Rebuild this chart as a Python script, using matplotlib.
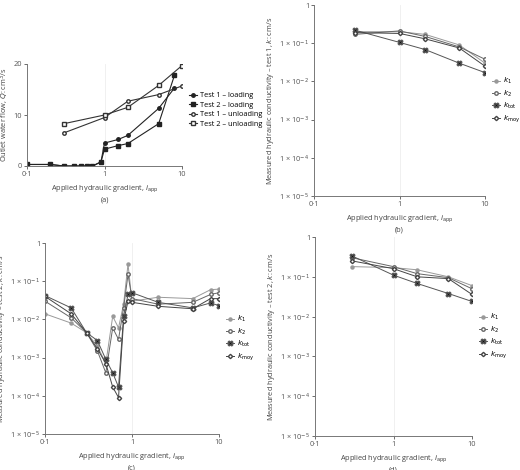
import matplotlib
matplotlib.use("Agg")
import matplotlib.pyplot as plt
from matplotlib.ticker import FixedLocator, NullLocator

plt.rcParams['font.family'] = ['Open Sans', 'DejaVu Sans']
plt.rcParams['font.size'] = 5.5
plt.rcParams['mathtext.fontset'] = 'dejavusans'

FS = 5.3

# Panel (a)
a_t1_load_x = [0.1, 0.2, 0.3, 0.4, 0.5, 0.6, 0.7, 0.9, 1, 1.5, 2, 5, 8]
a_t1_load_y = [0.3, 0.3, 0.0, 0.0, 0.0, 0.0, 0.0, 0.8, 4.5, 5.2, 6.0, 11.3, 15.3]
a_t2_load_x = [0.1, 0.2, 0.3, 0.4, 0.5, 0.6, 0.7, 0.9, 1, 1.5, 2, 5, 8]
a_t2_load_y = [0.3, 0.3, 0.0, 0.0, 0.0, 0.0, 0.0, 0.8, 3.3, 4.0, 4.4, 8.3, 17.8]
a_t1_unl_x = [0.3, 1, 2, 5, 10]
a_t1_unl_y = [6.5, 9.5, 12.7, 14.0, 15.7]
a_t2_unl_x = [0.3, 1, 2, 5, 10]
a_t2_unl_y = [8.3, 10.0, 11.5, 15.8, 19.7]

# Panel (b) test 1
b_x = [0.3, 1, 2, 5, 10]
b_k1 = [0.20, 0.20, 0.17, 0.090, 0.030]
b_k2 = [0.17, 0.21, 0.15, 0.080, 0.038]
b_ktot = [0.22, 0.105, 0.068, 0.030, 0.017]
b_kmoy = [0.19, 0.18, 0.13, 0.075, 0.025]

# Panel (c) test 2
c_x = [0.1, 0.2, 0.3, 0.4, 0.5, 0.6, 0.7, 0.8, 0.9, 1, 2, 5, 8, 10]
c_k1 = [0.014, 0.008, 0.0045, 0.002, 0.0007, 0.012, 0.006, 0.025, 0.28, 0.030, 0.038, 0.035, 0.060, 0.062]
c_k2 = [0.030, 0.011, 0.0045, 0.0015, 0.0004, 0.006, 0.003, 0.020, 0.15, 0.035, 0.025, 0.028, 0.045, 0.050]
c_ktot = [0.042, 0.020, 0.0045, 0.0028, 0.0009, 0.0004, 0.00017, 0.012, 0.045, 0.050, 0.028, 0.020, 0.027, 0.023]
c_kmoy = [0.040, 0.014, 0.0045, 0.0017, 0.0007, 0.00017, 0.00009, 0.009, 0.030, 0.028, 0.022, 0.019, 0.035, 0.035]

# Panel (d) test 2
d_x = [0.3, 1, 2, 5, 10]
d_k1 = [0.18, 0.17, 0.15, 0.10, 0.060]
d_k2 = [0.30, 0.18, 0.12, 0.095, 0.050]
d_ktot = [0.33, 0.11, 0.068, 0.038, 0.024]
d_kmoy = [0.25, 0.16, 0.10, 0.090, 0.036]

ylog_ticks = [1e-5, 1e-4, 1e-3, 1e-2, 1e-1, 1]
ylog_labels = ['1 × 10$^{-5}$', '1 × 10$^{-4}$', '1 × 10$^{-3}$', '1 × 10$^{-2}$', '1 × 10$^{-1}$', '1']
xlog_ticks = [0.1, 1, 10]
xlog_labels = ['0·1', '1', '10']

W, H = 520, 470
fig = plt.figure(figsize=(5.2, 4.7), dpi=100)

def add_ax(x0, x1, ytop, ybot):
    return fig.add_axes([x0 / W, 1 - ybot / H, (x1 - x0) / W, (ybot - ytop) / H])

def style(ax):
    for s in ['top', 'right']:
        ax.spines[s].set_visible(False)
    for s in ['left', 'bottom']:
        ax.spines[s].set_color('#777777')
        ax.spines[s].set_linewidth(0.7)
    ax.tick_params(colors='#555555', length=2, width=0.6, labelsize=FS, pad=1.5)
    ax.set_xscale('log')
    ax.set_xlim(0.1, 10)
    ax.xaxis.set_major_locator(FixedLocator(xlog_ticks))
    ax.set_xticklabels(xlog_labels)
    ax.xaxis.set_minor_locator(NullLocator())
    ax.axvline(1, color='#eeeeee', lw=0.6, zorder=0)

def style_k(ax, ylabel, tag):
    style(ax)
    ax.set_yscale('log')
    ax.set_ylim(1e-5, 1)
    ax.yaxis.set_major_locator(FixedLocator(ylog_ticks))
    ax.set_yticklabels(ylog_labels)
    ax.yaxis.set_minor_locator(NullLocator())
    ax.set_ylabel(ylabel, color='#444444', fontsize=FS, labelpad=2)
    ax.set_xlabel('Applied hydraulic gradient, $i_{\\rm app}$\n' + tag, color='#444444',
                  fontsize=FS, labelpad=4, linespacing=1.4)

# (a)
ax = add_ax(27, 182, 64, 166)
style(ax)
ax.set_ylim(0, 20)
ax.set_yticks([0, 10, 20])
ax.plot(a_t1_load_x, a_t1_load_y, '-o', color='#222222', ms=2.5, lw=0.8, label='Test 1 – loading')
ax.plot(a_t2_load_x, a_t2_load_y, '-s', color='#222222', ms=3, lw=0.8, label='Test 2 – loading')
ax.plot(a_t1_unl_x, a_t1_unl_y, '-o', color='#333333', mfc='white', ms=2.5, lw=0.8, label='Test 1 – unloading')
ax.plot(a_t2_unl_x, a_t2_unl_y, '-s', color='#333333', mfc='white', ms=3, lw=0.8, label='Test 2 – unloading')
ax.set_ylabel('Outlet water flow, $Q$: cm$^3$/s', color='#444444', fontsize=FS, labelpad=2)
ax.set_xlabel('Applied hydraulic gradient, $i_{\\rm app}$\n(a)', color='#444444', fontsize=FS,
              labelpad=4, linespacing=1.4)
ax.legend(loc='center left', bbox_to_anchor=(1.0, 0.55), frameon=False, fontsize=FS,
          handlelength=1.2, labelspacing=0.3, handletextpad=0.3)

def kplot(ax, x, k1, k2, ktot, kmoy):
    ax.plot(x, k1, '-o', color='#999999', ms=2.2, lw=0.7, label='$k_1$')
    ax.plot(x, k2, '-o', color='#666666', mfc='white', ms=2.5, lw=0.7, label='$k_2$')
    ax.plot(x, ktot, '-X', color='#555555', mfc='#111111', ms=3.5, lw=0.7, label='$k_{\\rm tot}$')
    ax.plot(x, kmoy, '-D', color='#444444', mfc='white', ms=2.2, lw=0.7, label='$k_{\\rm moy}$')
    ax.legend(loc='center left', bbox_to_anchor=(1.0, 0.5), frameon=False, fontsize=FS,
              handlelength=1.2, labelspacing=0.3, handletextpad=0.3)

ax = add_ax(314, 485, 5, 196)
style_k(ax, 'Measured hydraulic conductivity – test 1, $k$: cm/s', '(b)')
kplot(ax, b_x, b_k1, b_k2, b_ktot, b_kmoy)

ax = add_ax(45, 219, 243, 434)
style_k(ax, 'Measured hydraulic conductivity – test 2, $k$: cm/s', '(c)')
kplot(ax, c_x, c_k1, c_k2, c_ktot, c_kmoy)

ax = add_ax(315, 472, 237, 436)
style_k(ax, 'Measured hydraulic conductivity – test 2, $k$: cm/s', '(d)')
kplot(ax, d_x, d_k1, d_k2, d_ktot, d_kmoy)

fig.savefig('out.png', dpi=100, facecolor='white')
